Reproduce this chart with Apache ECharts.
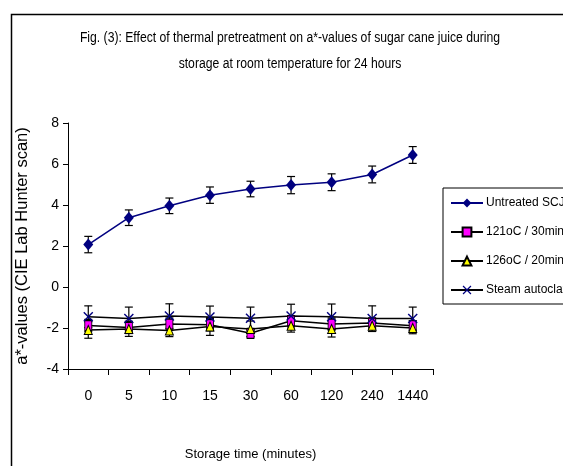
<!DOCTYPE html>
<html>
<head>
<meta charset="utf-8">
<script src="https://cdn.jsdelivr.net/npm/echarts@6/dist/echarts.min.js"></script>
<style>
  html, body { margin: 0; padding: 0; background: #fff; }
  #chart { width: 563px; height: 466px; }
</style>
</head>
<body>
<div id="chart"></div>
<script>
// storage time categories (minutes)
const times = ['0', '5', '10', '15', '30', '60', '120', '240', '1440']

// a*-values
const untreated = [2.07, 3.38, 3.96, 4.48, 4.78, 4.97, 5.11, 5.49, 6.44]
const t121 = [-1.88, -1.97, -1.81, -1.84, -2.26, -1.65, -1.81, -1.76, -1.89]
const t126 = [-2.1, -2.05, -2.12, -1.93, -2.05, -1.89, -2.05, -1.89, -2.0]
const steam = [-1.45, -1.54, -1.42, -1.46, -1.53, -1.42, -1.45, -1.54, -1.54]

// error bar half widths
const errUntreated = [0.4, 0.38, 0.38, 0.4, 0.38, 0.42, 0.41, 0.41, 0.41]
const err121 = [0.3, 0.3, 0.3, 0.3, 0.15, 0.25, 0.3, 0.25, 0.25]
const err126 = [0.4, 0.36, 0.3, 0.43, 0.39, 0.31, 0.39, 0.28, 0.28]
const errSteam = [0.53, 0.56, 0.6, 0.53, 0.55, 0.58, 0.62, 0.62, 0.56]

const yTicks = [-4, -2, 0, 2, 4, 6, 8]

const sans = "'Liberation Sans', Arial, sans-serif"

function errData(vals, errs) {
  return vals.map((v, i) => [i, v - errs[i], v + errs[i]])
}

function errSeries(vals, errs) {
  return {
    type: 'custom',
    z: 1,
    silent: true,
    data: errData(vals, errs),
    renderItem: function (params, api) {
      const lo = api.coord([api.value(0), api.value(1)])
      const hi = api.coord([api.value(0), api.value(2)])
      const w = 4
      const style = { stroke: '#000', lineWidth: 1.2 }
      return {
        type: 'group',
        children: [
          { type: 'line', shape: { x1: hi[0], y1: hi[1], x2: lo[0], y2: lo[1] }, style: style },
          { type: 'line', shape: { x1: hi[0] - w, y1: hi[1], x2: hi[0] + w, y2: hi[1] }, style: style },
          { type: 'line', shape: { x1: lo[0] - w, y1: lo[1], x2: lo[0] + w, y2: lo[1] }, style: style }
        ]
      }
    }
  }
}

const xMark = 'path://M0,1L1,0L5,4L9,0L10,1L6,5L10,9L9,10L5,6L1,10L0,9L4,5Z'

const chart = echarts.init(document.getElementById('chart'), null, { renderer: 'canvas' })

const option = {
  backgroundColor: '#fff',
  animation: false,
  graphic: [
    {
      type: 'rect',
      shape: { x: 11.5, y: 14.5, width: 620, height: 520 },
      style: { fill: 'none', stroke: '#000', lineWidth: 1.5 },
      silent: true,
      z: -1
    },
    {
      type: 'text',
      x: 290,
      y: 25,
      scaleX: 0.87,
      style: {
        text: 'Fig. (3): Effect of thermal pretreatment on a*-values of sugar cane juice during\nstorage at room temperature for 24 hours',
        align: 'center',
        verticalAlign: 'top',
        lineHeight: 26,
        font: '14px ' + sans,
        fill: '#000'
      }
    }
  ],
  legend: {
    orient: 'vertical',
    left: 443,
    top: 188,
    itemWidth: 32,
    itemHeight: 11,
    itemGap: 17,
    padding: [9, 8, 8, 7],
    borderColor: '#000',
    borderWidth: 1,
    textStyle: { fontFamily: sans, fontSize: 12, color: '#000', padding: [0, 0, 0, -2] },
    data: ['Untreated SCJ', '121oC / 30min', '126oC / 20min', 'Steam autoclave']
  },
  grid: { left: 68, right: 130, top: 123, bottom: 88 },
  xAxis: {
    type: 'category',
    data: times,
    boundaryGap: true,
    name: 'Storage time (minutes)',
    nameLocation: 'middle',
    nameGap: 79,
    nameTextStyle: { fontFamily: sans, fontSize: 13, color: '#000' },
    axisLine: { onZero: false, lineStyle: { color: '#000', width: 1 } },
    axisTick: { show: true, length: 6, inside: false, alignWithLabel: false, interval: 0, lineStyle: { color: '#000' } },
    axisLabel: { margin: 20, interval: 0, fontFamily: sans, fontSize: 14, color: '#000' },
    splitLine: { show: false }
  },
  yAxis: {
    type: 'value',
    min: yTicks[0],
    max: yTicks[yTicks.length - 1],
    interval: 2,
    name: 'a*-values (CIE Lab Hunter scan)',
    nameLocation: 'middle',
    nameGap: 37,
    nameTextStyle: { fontFamily: sans, fontSize: 16.5, color: '#000' },
    axisLine: { show: true, lineStyle: { color: '#000', width: 1 } },
    axisTick: { show: true, length: 5, lineStyle: { color: '#000' } },
    axisLabel: { margin: 9, fontFamily: sans, fontSize: 14, color: '#000' },
    splitLine: { show: false }
  },
  series: [
    errSeries(untreated, errUntreated),
    errSeries(t121, err121),
    errSeries(t126, err126),
    errSeries(steam, errSteam),
    {
      name: 'Untreated SCJ',
      type: 'line',
      z: 5,
      data: untreated,
      symbol: 'diamond',
      symbolSize: [10, 12],
      lineStyle: { color: '#000080', width: 1.5 },
      itemStyle: { color: '#000080' }
    },
    {
      name: '121oC / 30min',
      type: 'line',
      z: 4,
      data: t121,
      symbol: 'rect',
      symbolSize: [7, 10],
      lineStyle: { color: '#000', width: 1.5 },
      itemStyle: { color: '#ff00ff', borderColor: '#000', borderWidth: 1 }
    },
    {
      name: '126oC / 20min',
      type: 'line',
      z: 4,
      data: t126,
      symbol: 'triangle',
      symbolSize: [8, 9],
      lineStyle: { color: '#000', width: 1.5 },
      itemStyle: { color: '#ffff00', borderColor: '#000', borderWidth: 1 }
    },
    {
      name: 'Steam autoclave',
      type: 'line',
      z: 4,
      data: steam,
      symbol: xMark,
      symbolSize: 10,
      lineStyle: { color: '#000', width: 1.5 },
      itemStyle: { color: '#000080' }
    }
  ]
}

chart.setOption(option)
</script>
</body>
</html>
